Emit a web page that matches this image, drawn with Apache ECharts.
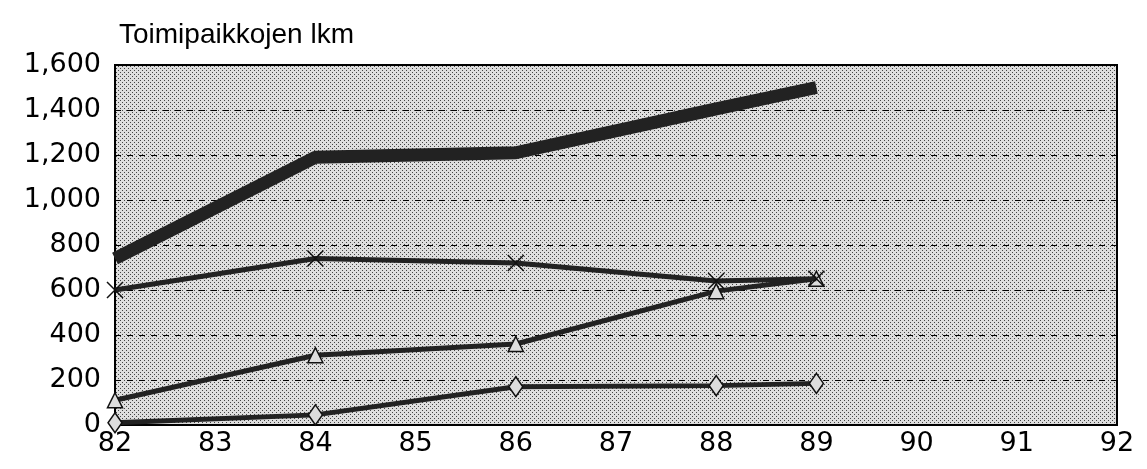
<!DOCTYPE html>
<html>
<head>
<meta charset="utf-8">
<script src="https://cdn.jsdelivr.net/npm/echarts@6/dist/echarts.min.js"></script>
<style>html,body{margin:0;padding:0;background:#fff}#c{width:1147px;height:469px}</style>
</head>
<body>
<div id="c"></div>
<script>
const title = 'Toimipaikkojen lkm';
const years = [82, 84, 86, 88, 89];
const thickSeries = [740, 1190, 1210, 1405, 1500];
const crossSeries = [600, 740, 720, 640, 650];
const triangleSeries = [110, 310, 360, 595, 650];
const diamondSeries = [10, 45, 170, 175, 185];
const xTicks = [82, 92];
const yTicks = [0, 1600];

function pairs(vals){ return years.map((y,i)=>[y, vals[i]]); }

// stipple pattern
const pc = document.createElement('canvas');
pc.width = 4; pc.height = 4;
const g = pc.getContext('2d');
g.fillStyle = '#dedede'; g.fillRect(0,0,4,4);
g.fillStyle = '#444';
g.fillRect(0,0,1,1); g.fillRect(2,2,1,1);

const chart = echarts.init(document.getElementById('c'), null, {renderer:'canvas'});
const titleFont = '"Liberation Sans", Arial, sans-serif';
const font = '"DejaVu Sans", sans-serif';
chart.setOption({
  animation: false,
  backgroundColor: '#fff',
  title: {text: title, left: 114, top: 16, textStyle:{fontFamily: titleFont, fontSize: 28, fontWeight:'normal', color:'#000'}},
  grid: {left: 115, right: 30, top: 65, bottom: 44, show: true, borderColor:'#000', borderWidth: 2,
         backgroundColor: {image: pc, repeat: 'repeat'}},
  xAxis: {type:'value', min: xTicks[0], max: xTicks[1], interval: 1,
    axisLine:{show:true, lineStyle:{color:'#000', width:2}}, axisTick:{show:false}, splitLine:{show:false},
    axisLabel:{fontFamily: font, fontSize: 27, color:'#000', margin: 5}},
  yAxis: {type:'value', min: yTicks[0], max: yTicks[1], interval: 200,
    axisLine:{show:true, lineStyle:{color:'#000', width:2}}, axisTick:{show:false},
    splitLine:{show:true, lineStyle:{color:'#000', type:[6,6], width:1}},
    axisLabel:{fontFamily: font, fontSize: 27, color:'#000', margin: 14,
      formatter: v => v.toLocaleString('en-US')}},
  series: [
    {type:'line', data: pairs(thickSeries), symbol:'none', lineStyle:{color:'#222', width:13}, z:5},
    {type:'line', data: pairs(crossSeries), symbol:'path://M0,0L10,10M10,0L0,10', symbolSize: 16,
      itemStyle:{color:'none', borderColor:'#111', borderWidth:1.5}, lineStyle:{color:'#222', width:5}, z:4},
    {type:'line', data: pairs(triangleSeries), symbol:'triangle', symbolSize: 15,
      itemStyle:{color:'#ddd', borderColor:'#111', borderWidth:1.5}, lineStyle:{color:'#222', width:5}, z:3},
    {type:'line', data: pairs(diamondSeries), symbol:'diamond', symbolSize: [14,20],
      itemStyle:{color:'#ddd', borderColor:'#111', borderWidth:1.5}, lineStyle:{color:'#222', width:5}, z:3}
  ]
});
</script>
</body>
</html>
